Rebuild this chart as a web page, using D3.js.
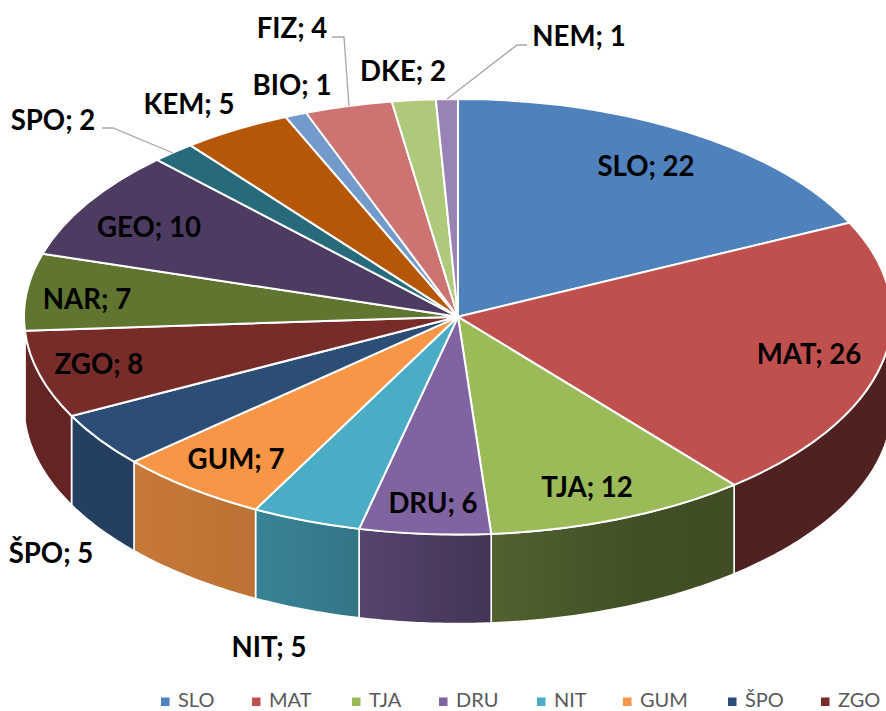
<!DOCTYPE html>
<html>
<head>
<meta charset="utf-8">
<script src="https://cdn.jsdelivr.net/npm/d3@7"></script>
<style>
  html, body { margin: 0; padding: 0; background: #fff; overflow: hidden; }
  svg { display: block; font-family: Lato, "Open Sans", sans-serif; }
</style>
</head>
<body>
<div id="plot"></div>
<script>
var categories = ["SLO", "MAT", "TJA", "DRU", "NIT", "GUM", "ŠPO", "ZGO", "NAR", "GEO", "SPO", "KEM", "BIO", "FIZ", "DKE", "NEM"];
var values = [22, 26, 12, 6, 5, 7, 5, 8, 7, 10, 2, 5, 1, 4, 2, 1];
var colors = ["#4f81bd", "#c0504d", "#9bbb59", "#8064a2", "#4bacc6", "#f79646", "#2c4d75", "#772c2a",
              "#5f7530", "#4d3b62", "#276a7c", "#b65708", "#729aca", "#cd7371", "#afc97a", "#9983b5"];
var legendCategories = categories.slice(0, 8);

var width = 886, height = 711;
var cx = 458, cy = 316.8, rx = 434, ry = 217.8, depth = 89;

// label centres, placed by hand like the data labels in the original
var labelAt = [[646, 166], [809, 354], [587, 487], [433, 503], [269, 647], [236, 459], [51, 553], [99, 364],
               [87, 299], [149, 227], [53, 120], [189, 104], [292, 85], [292, 28], [403, 71], [579, 36]];
var leaders = {
    "SPO": [[102, 128], [113, 128], [173, 153]],
    "FIZ": [[332, 37], [344, 37], [349, 106]],
    "NEM": [[527, 45], [517, 45], [447, 99]]
};
var legendX = [161, 252, 352, 439, 537, 623, 728, 821];

var x = d3.scaleLinear().domain([-1, 1]).range([cx - rx, cx + rx]);
var y = d3.scaleLinear().domain([-1, 1]).range([cy + ry, cy - ry]);

// side walls get darker towards the right
var shade = d3.scaleLinear()
    .domain([24, 133, 256, 360, 492, 640, 737, 892])
    .range([0.85, 0.8, 0.76, 0.68, 0.52, 0.42, 0.41, 0.41]);

var svg = d3.select("#plot").append("svg")
    .attr("width", width)
    .attr("height", height);

var pie = d3.pie().sort(null);
var arcs = pie(values);

var defs = svg.append("defs");
colors.forEach(function (c, i) {
    var g = defs.append("linearGradient")
        .attr("id", "wall" + i)
        .attr("gradientUnits", "userSpaceOnUse")
        .attr("x1", cx - rx).attr("x2", cx + rx)
        .attr("y1", 0).attr("y2", 0);
    shade.domain().forEach(function (px) {
        var rgb = d3.rgb(c), k = shade(px);
        g.append("stop")
            .attr("offset", (px - (cx - rx)) / (2 * rx))
            .attr("stop-color", d3.rgb(rgb.r * k, rgb.g * k, rgb.b * k).formatHex());
    });
});

// walls only exist on the front half, angles 90 to 270 degrees
var wall = d3.area()
    .x(function (a) { return x(Math.sin(a)); })
    .y0(function (a) { return y(Math.cos(a)); })
    .y1(function (a) { return y(Math.cos(a)) + depth; });

var walls = svg.append("g");
arcs.forEach(function (d, i) {
    var a0 = Math.max(d.startAngle, Math.PI / 2);
    var a1 = Math.min(d.endAngle, 3 * Math.PI / 2);
    if (a1 <= a0) return;
    var n = Math.ceil((a1 - a0) / 0.01);
    var pts = d3.range(n + 1).map(function (k) { return a0 + (a1 - a0) * k / n; });
    walls.append("path")
        .attr("d", wall(pts))
        .attr("fill", "url(#wall" + i + ")")
        .attr("stroke", "#fff")
        .attr("stroke-width", 1.6)
        .attr("stroke-linejoin", "round");
});

var arc = d3.arc().innerRadius(0).outerRadius(rx);

svg.append("g")
    .attr("transform", "translate(" + cx + "," + cy + ") scale(1," + (ry / rx) + ")")
  .selectAll("path")
    .data(arcs)
    .enter().append("path")
    .attr("d", arc)
    .attr("fill", function (d, i) { return colors[i]; })
    .attr("stroke", "#fff")
    .attr("stroke-width", 2)
    .attr("stroke-linejoin", "round")
    .attr("vector-effect", "non-scaling-stroke");

var leaderLine = d3.line();
Object.keys(leaders).forEach(function (k) {
    svg.append("path")
        .attr("d", leaderLine(leaders[k]))
        .attr("fill", "none")
        .attr("stroke", "#a6a6a6")
        .attr("stroke-width", 1.3);
});

svg.append("g").selectAll("text")
    .data(categories)
    .enter().append("text")
    .attr("x", function (d, i) { return labelAt[i][0]; })
    .attr("y", function (d, i) { return labelAt[i][1]; })
    .attr("dy", ".35em")
    .attr("text-anchor", "middle")
    .style("font-size", "27.6px")
    .style("font-weight", "700")
    .style("fill", "#000")
    .text(function (d, i) { return d + "; " + values[i]; });

var legend = svg.append("g").selectAll("g")
    .data(legendCategories)
    .enter().append("g")
    .attr("transform", function (d, i) { return "translate(" + legendX[i] + ",702)"; });

legend.append("rect")
    .attr("x", 0).attr("y", -4.5)
    .attr("width", 8.5).attr("height", 8.5)
    .style("fill", function (d, i) { return colors[i]; });

legend.append("text")
    .attr("x", 17)
    .attr("y", 5)
    .style("font-size", "20px")
    .style("fill", "#595959")
    .text(function (d) { return d; });
</script>
</body>
</html>
